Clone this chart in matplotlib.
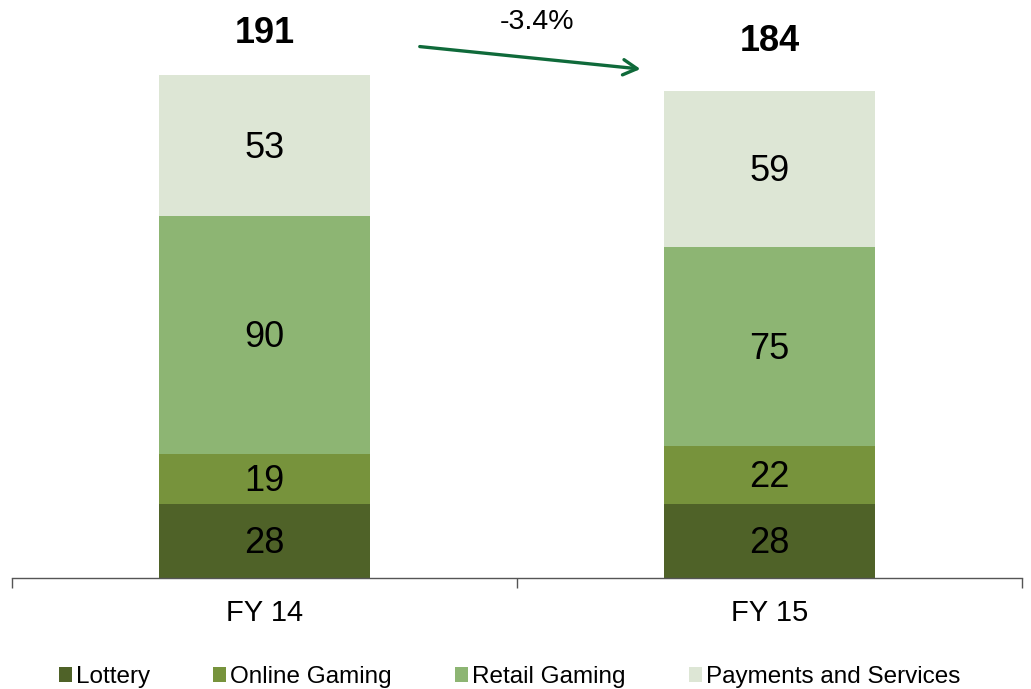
import matplotlib
matplotlib.use("Agg")
import matplotlib.pyplot as plt
import numpy as np
from matplotlib.patches import Patch

categories = ["FY 14", "FY 15"]
series_names = ["Lottery", "Online Gaming", "Retail Gaming", "Payments and Services"]
lottery = [28, 28]
online = [19, 22]
retail = [90, 75]
payments = [53, 59]
totals = [191, 184]
change_label = "-3.4%"

colors = ["#4F6228", "#77933C", "#8DB573", "#DDE6D5"]

plt.rcParams["font.family"] = ["Liberation Sans", "DejaVu Sans"]

fig = plt.figure(figsize=(10.31, 6.89), dpi=100)
ax = fig.add_axes([12/1031, 1-578/689, 1010/1031, 578/689])

x = np.arange(len(categories))
width = 0.416
bottom = np.zeros(len(categories))
for vals, col in zip([lottery, online, retail, payments], colors):
    ax.bar(x, vals, width, bottom=bottom, color=col, edgecolor="none")
    for xi, b, v in zip(x, bottom, vals):
        ax.text(xi, b + v/2 - 1.0, str(v), ha="center", va="center", fontsize=26, color="black")
    bottom = bottom + np.array(vals)

offsets = [15, 19]
for xi, t, o in zip(x, totals, offsets):
    ax.text(xi, t + o, str(t), ha="center", va="center", fontsize=26, fontweight="bold")

ax.annotate("", xy=(0.75, totals[1] + 8.3), xytext=(0.302, totals[0] + 10),
            arrowprops=dict(arrowstyle="->,head_length=1.0,head_width=0.55", color="#0F6A3A", lw=2.4))
ax.text(0.54, 210, change_label, ha="center", va="center", fontsize=20.5)

ax.set_xlim(-0.5, 1.5)
ax.set_ylim(0, 218.5)
ax.set_yticks([])
for s in ["top", "right", "left"]:
    ax.spines[s].set_visible(False)
ax.spines["bottom"].set_color("#555555")
ax.spines["bottom"].set_linewidth(1.0)
ax.set_xticks(x)
ax.set_xticklabels(categories, fontsize=21)
ax.tick_params(axis="x", which="major", length=0, pad=15)
ax.set_xticks([-0.5, 0.5, 1.5], minor=True)
ax.tick_params(axis="x", which="minor", length=7, color="#555555", width=1.0)

handles = [Patch(facecolor=c, edgecolor="none") for c in colors]
fig.legend(handles, series_names, loc="lower center", ncol=4, frameon=False,
           fontsize=17.5, bbox_to_anchor=(0.494, -0.03), handlelength=0.55, handleheight=0.6,
           handletextpad=0.15, columnspacing=2.6)

fig.savefig("out.png", dpi=100)
